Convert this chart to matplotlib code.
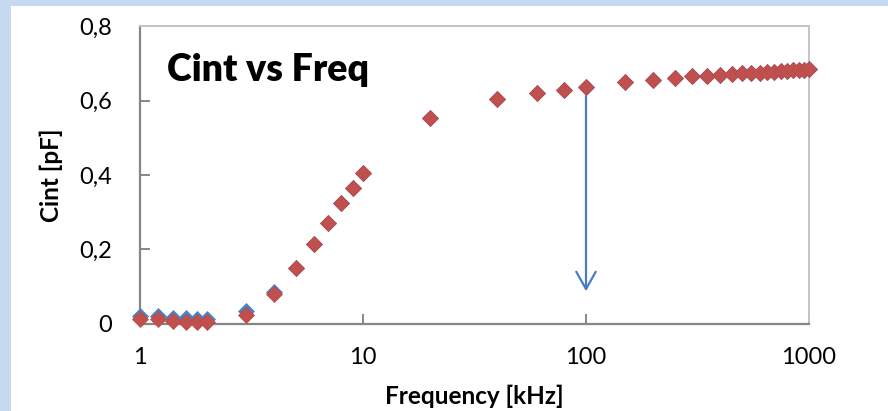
import numpy as np
from matplotlib import pyplot as plt
from matplotlib.patches import Rectangle

plt.rcParams['font.family'] = ['Lato', 'DejaVu Sans']

# Frequenzen in kHz
freq = [1, 1.2, 1.4, 1.6, 1.8, 2, 3, 4, 5, 6, 7, 8, 9, 10, 20, 40, 60, 80, 100,
        150, 200, 250, 300, 350, 400, 450, 500, 550, 600, 650, 700, 750, 800,
        850, 900, 950, 1000]

# Cint in pF, zwei Messreihen
cint_a = [0.022, 0.020, 0.015, 0.014, 0.013, 0.012, 0.034, 0.086, 0.150, 0.214,
          0.272, 0.326, 0.366, 0.405, 0.554, 0.606, 0.622, 0.630, 0.637,
          0.650, 0.657, 0.662, 0.666, 0.668, 0.670, 0.672, 0.674, 0.675,
          0.676, 0.677, 0.678, 0.679, 0.680, 0.682, 0.683, 0.684, 0.685]
cint_b = [0.012, 0.013, 0.006, 0.005, 0.004, 0.004, 0.024, 0.079, 0.149, 0.214,
          0.272, 0.326, 0.366, 0.405, 0.554, 0.606, 0.622, 0.630, 0.637,
          0.650, 0.657, 0.662, 0.666, 0.668, 0.670, 0.672, 0.674, 0.675,
          0.676, 0.677, 0.678, 0.679, 0.680, 0.682, 0.683, 0.684, 0.685]

yticks = [0, 0.2, 0.4, 0.6, 0.8]
ytick_labels = ['0', '0,2', '0,4', '0,6', '0,8']
xticks = [1, 10, 100, 1000]
xtick_labels = ['1', '10', '100', '1000']

fig = plt.figure(figsize=(8.88, 4.11), dpi=100)
fig.patch.set_facecolor('white')

# hellblauer Rahmen links und oben
bg = '#C6D9F1'
fig.patches.append(Rectangle((0, 0), 11/888, 1, transform=fig.transFigure,
                             facecolor=bg, edgecolor='none', zorder=0))
fig.patches.append(Rectangle((0, 1-6/411), 1, 6/411, transform=fig.transFigure,
                             facecolor=bg, edgecolor='none', zorder=0))

ax = fig.add_axes([140/888, 1-323.7/411, (809-140)/888, (323.7-26.5)/411])
ax.set_xscale('log')
ax.set_xlim(1, 1000)
ax.set_ylim(0, 0.8)

ax.plot(freq, cint_a, 'D', color='#4F81BD', ms=8.3, mec='#4F81BD', mew=0.5,
        clip_on=False, zorder=3)
ax.plot(freq, cint_b, 'D', color='#C0504D', ms=8.3, mec='#B9474A', mew=0.5,
        clip_on=False, zorder=4)

ax.annotate('', xy=(100, 0.087), xytext=(100, 0.613),
            arrowprops=dict(arrowstyle='->, head_length=1.25, head_width=0.7',
                            color='#4A7EBB', lw=1.6, shrinkA=0, shrinkB=0,
                            mutation_scale=10))

ax.set_xticks(xticks)
ax.set_xticklabels(xtick_labels)
ax.minorticks_off()
ax.set_yticks(yticks)
ax.set_yticklabels(ytick_labels)

ax.tick_params(axis='both', direction='in', length=7, width=1.4,
               color='#868686', labelsize=17)
ax.tick_params(axis='x', pad=17)
ax.tick_params(axis='y', pad=20)

for s in ['left', 'bottom']:
    ax.spines[s].set_color('#868686')
    ax.spines[s].set_linewidth(1.6)
for s in ['top', 'right']:
    ax.spines[s].set_color('#C4C4C4')
    ax.spines[s].set_linewidth(1.4)

ax.set_xlabel('Frequency [kHz]', fontsize=17.5, fontweight='bold', labelpad=12)
ax.set_ylabel('Cint [pF]', fontsize=17.5, fontweight='bold', labelpad=12)

ax.text(0.04, 0.855, 'Cint vs Freq', transform=ax.transAxes, fontsize=27,
        fontweight='heavy', va='center', ha='left')

fig.savefig('out.png', dpi=100)
